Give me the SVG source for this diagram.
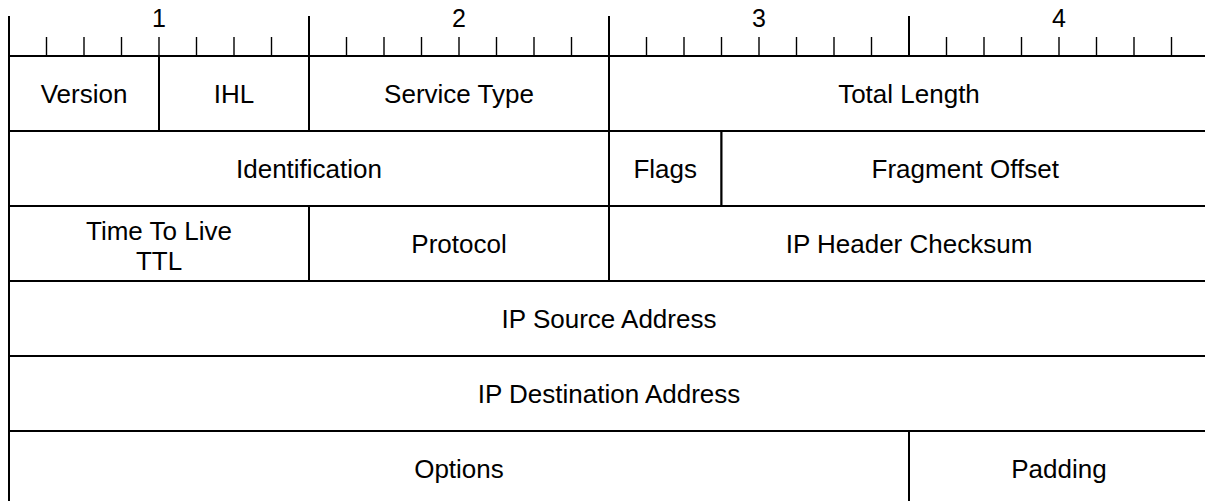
<svg xmlns="http://www.w3.org/2000/svg" width="1205" height="501" viewBox="0 0 1205 501">
  <style>
    .cell { fill: #ffffff; stroke: #000000; stroke-width: 2; }
    .lbl { font-family: "Liberation Sans", Arial, sans-serif; font-size: 26px; fill: #000000; text-anchor: middle; }
    .num { font-family: "Liberation Sans", Arial, sans-serif; font-size: 25px; fill: #000000; text-anchor: middle; }
    .tick { stroke: #000000; stroke-width: 1.4; }
    .tall { stroke: #000000; stroke-width: 2; }
  </style>
  <rect width="1205" height="501" fill="#ffffff"/>

  <!-- byte ruler: 32 bits, 37.5px each -->
  <g id="ruler">
    <line class="tall" x1="9" y1="16" x2="9" y2="56"/>
    <line class="tall" x1="309" y1="16" x2="309" y2="56"/>
    <line class="tall" x1="609" y1="16" x2="609" y2="56"/>
    <line class="tall" x1="909" y1="16" x2="909" y2="56"/>
    <g class="tick">
      <line x1="46.5" y1="37" x2="46.5" y2="56"/>
      <line x1="84" y1="37" x2="84" y2="56"/>
      <line x1="121.5" y1="37" x2="121.5" y2="56"/>
      <line x1="159" y1="37" x2="159" y2="56"/>
      <line x1="196.5" y1="37" x2="196.5" y2="56"/>
      <line x1="234" y1="37" x2="234" y2="56"/>
      <line x1="271.5" y1="37" x2="271.5" y2="56"/>
      <line x1="346.5" y1="37" x2="346.5" y2="56"/>
      <line x1="384" y1="37" x2="384" y2="56"/>
      <line x1="421.5" y1="37" x2="421.5" y2="56"/>
      <line x1="459" y1="37" x2="459" y2="56"/>
      <line x1="496.5" y1="37" x2="496.5" y2="56"/>
      <line x1="534" y1="37" x2="534" y2="56"/>
      <line x1="571.5" y1="37" x2="571.5" y2="56"/>
      <line x1="646.5" y1="37" x2="646.5" y2="56"/>
      <line x1="684" y1="37" x2="684" y2="56"/>
      <line x1="721.5" y1="37" x2="721.5" y2="56"/>
      <line x1="759" y1="37" x2="759" y2="56"/>
      <line x1="796.5" y1="37" x2="796.5" y2="56"/>
      <line x1="834" y1="37" x2="834" y2="56"/>
      <line x1="871.5" y1="37" x2="871.5" y2="56"/>
      <line x1="946.5" y1="37" x2="946.5" y2="56"/>
      <line x1="984" y1="37" x2="984" y2="56"/>
      <line x1="1021.5" y1="37" x2="1021.5" y2="56"/>
      <line x1="1059" y1="37" x2="1059" y2="56"/>
      <line x1="1096.5" y1="37" x2="1096.5" y2="56"/>
      <line x1="1134" y1="37" x2="1134" y2="56"/>
      <line x1="1171.5" y1="37" x2="1171.5" y2="56"/>
    </g>
    <text class="num" x="159" y="27">1</text>
    <text class="num" x="459" y="27">2</text>
    <text class="num" x="759" y="27">3</text>
    <text class="num" x="1059" y="27">4</text>
  </g>

  <!-- row 1 -->
  <g id="version">
    <rect class="cell" x="9" y="56" width="150" height="75"/>
    <text class="lbl" x="84" y="103">Version</text>
  </g>
  <g id="ihl">
    <rect class="cell" x="159" y="56" width="150" height="75"/>
    <text class="lbl" x="234" y="103">IHL</text>
  </g>
  <g id="service-type">
    <rect class="cell" x="309" y="56" width="300" height="75"/>
    <text class="lbl" x="459" y="103">Service Type</text>
  </g>
  <g id="total-length">
    <rect class="cell" x="609" y="56" width="600" height="75"/>
    <text class="lbl" x="909" y="103">Total Length</text>
  </g>

  <!-- row 2 -->
  <g id="identification">
    <rect class="cell" x="9" y="131" width="600" height="75"/>
    <text class="lbl" x="309" y="178">Identification</text>
  </g>
  <g id="flags">
    <rect class="cell" x="609" y="131" width="112.5" height="75"/>
    <text class="lbl" x="665.25" y="178">Flags</text>
  </g>
  <g id="fragment-offset">
    <rect class="cell" x="721.5" y="131" width="487.5" height="75"/>
    <text class="lbl" x="965.25" y="178">Fragment Offset</text>
  </g>

  <!-- row 3 -->
  <g id="ttl">
    <rect class="cell" x="9" y="206" width="300" height="75"/>
    <text class="lbl" x="159" y="240">Time To Live</text>
    <text class="lbl" x="159" y="270">TTL</text>
  </g>
  <g id="protocol">
    <rect class="cell" x="309" y="206" width="300" height="75"/>
    <text class="lbl" x="459" y="253">Protocol</text>
  </g>
  <g id="header-checksum">
    <rect class="cell" x="609" y="206" width="600" height="75"/>
    <text class="lbl" x="909" y="253">IP Header Checksum</text>
  </g>

  <!-- row 4 -->
  <g id="source-address">
    <rect class="cell" x="9" y="281" width="1200" height="75"/>
    <text class="lbl" x="609" y="328">IP Source Address</text>
  </g>

  <!-- row 5 -->
  <g id="destination-address">
    <rect class="cell" x="9" y="356" width="1200" height="75"/>
    <text class="lbl" x="609" y="403">IP Destination Address</text>
  </g>

  <!-- row 6 -->
  <g id="options">
    <rect class="cell" x="9" y="431" width="900" height="75"/>
    <text class="lbl" x="459" y="478">Options</text>
  </g>
  <g id="padding">
    <rect class="cell" x="909" y="431" width="300" height="75"/>
    <text class="lbl" x="1059" y="478">Padding</text>
  </g>

  <!-- no connectors in this layout -->
  <g id="connectors"/>
</svg>
